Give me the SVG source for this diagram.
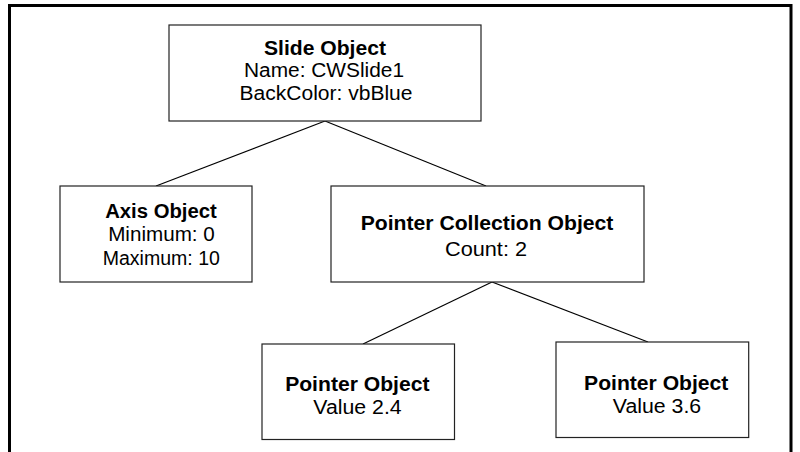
<svg xmlns="http://www.w3.org/2000/svg" width="800" height="452" viewBox="0 0 800 452">
<style>
.box{fill:#fff;stroke:#222;stroke-width:1.2}
.c{stroke:#000;stroke-width:1.2;fill:none}
text{font-family:"Liberation Sans",Arial,sans-serif;font-size:19.5px;fill:#000;text-anchor:middle}
.b{font-weight:bold}
</style>
<rect width="800" height="452" fill="#fff"/>
<path d="M9.5,452 V5.5 H791 V452" fill="none" stroke="#000" stroke-width="3"/>
<g id="connectors">
<line class="c" x1="325" y1="121" x2="156" y2="186"/>
<line class="c" x1="325" y1="121" x2="486" y2="186"/>
<line class="c" x1="492" y1="282" x2="363" y2="344"/>
<line class="c" x1="492" y1="282" x2="648" y2="342"/>
</g>
<g id="slide">
<rect class="box" x="169" y="25" width="312" height="96"/>
<text class="b" x="325" y="54.5" textLength="122" lengthAdjust="spacingAndGlyphs">Slide Object</text>
<text x="324" y="77" textLength="160" lengthAdjust="spacingAndGlyphs">Name: CWSlide1</text>
<text x="326" y="99.5" textLength="173" lengthAdjust="spacingAndGlyphs">BackColor: vbBlue</text>
</g>
<g id="axis">
<rect class="box" x="60" y="186" width="192" height="96"/>
<text class="b" x="161" y="217.5" textLength="111.7" lengthAdjust="spacingAndGlyphs">Axis Object</text>
<text x="161.5" y="241" textLength="106.7" lengthAdjust="spacingAndGlyphs">Minimum: 0</text>
<text x="161.3" y="265" textLength="117.3" lengthAdjust="spacingAndGlyphs">Maximum: 10</text>
</g>
<g id="collection">
<rect class="box" x="331" y="186" width="313" height="96"/>
<text class="b" x="487" y="230" textLength="252.7" lengthAdjust="spacingAndGlyphs">Pointer Collection Object</text>
<text x="486" y="255.5" textLength="82" lengthAdjust="spacingAndGlyphs">Count: 2</text>
</g>
<g id="pointer1">
<rect class="box" x="262" y="344" width="192.5" height="95.5"/>
<text class="b" x="357.3" y="391" textLength="144.3" lengthAdjust="spacingAndGlyphs">Pointer Object</text>
<text x="357.5" y="413.5" textLength="88.3" lengthAdjust="spacingAndGlyphs">Value 2.4</text>
</g>
<g id="pointer2">
<rect class="box" x="556" y="342" width="192.7" height="95.5"/>
<text class="b" x="656.2" y="389.5" textLength="144.3" lengthAdjust="spacingAndGlyphs">Pointer Object</text>
<text x="657" y="412.5" textLength="88.3" lengthAdjust="spacingAndGlyphs">Value 3.6</text>
</g>
</svg>
